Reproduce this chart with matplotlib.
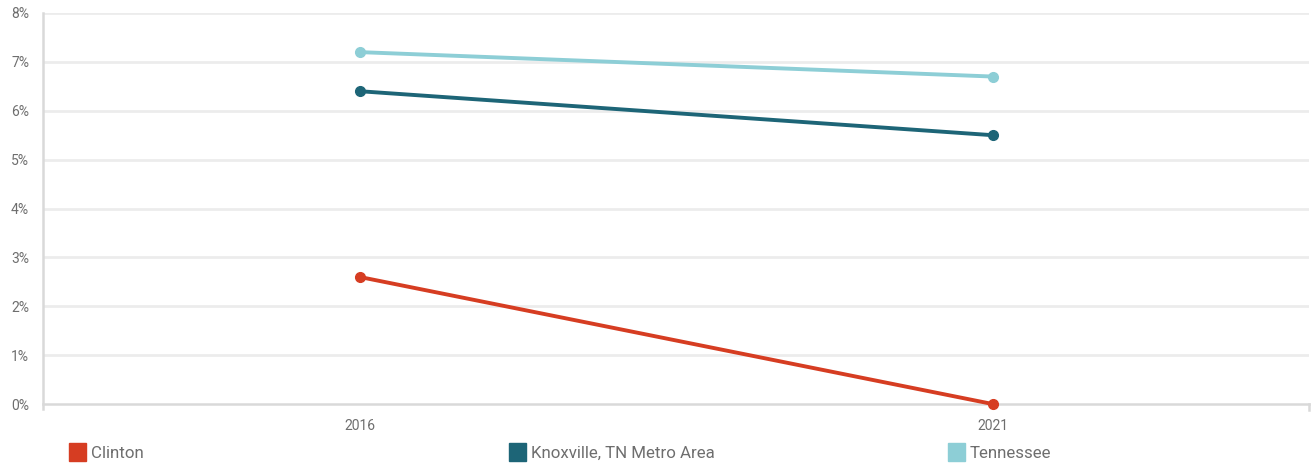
import matplotlib
matplotlib.use("Agg")
import matplotlib.pyplot as plt
from matplotlib.patches import Rectangle
import numpy as np

years = ["2016", "2021"]
series_names = ["Clinton", "Knoxville, TN Metro Area", "Tennessee"]
clinton = [2.6, 0.0]
knoxville = [6.4, 5.5]
tennessee = [7.2, 6.7]
colors = ["#d63d22", "#1d6577", "#8dced6"]
y_ticks = [0, 1, 2, 3, 4, 5, 6, 7, 8]

plt.rcParams['font.family'] = ['Roboto', 'DejaVu Sans']

fig = plt.figure(figsize=(13.12, 4.68), dpi=100)
ax = fig.add_axes([43 / 1312, 1 - 404 / 468, (1309 - 43) / 1312, (404 - 13) / 468])

x = np.arange(len(years))
for name, vals, c in zip(series_names, [clinton, knoxville, tennessee], colors):
    ax.plot(x, vals, color=c, lw=2.8, marker="o", ms=7, zorder=3,
            solid_capstyle="round", clip_on=False)

ax.set_xlim(-0.5, len(years) - 0.5)
ax.set_ylim(0, 8)
ax.set_xticks(x)
ax.set_xticklabels(years)
ax.set_yticks(y_ticks)
ax.set_yticklabels([f"{v}%" for v in y_ticks])

for v in y_ticks[1:]:
    ax.axhline(v, color="#ececec", lw=2, zorder=1)

for side in ["top", "right"]:
    ax.spines[side].set_visible(False)
for side in ["left", "bottom"]:
    ax.spines[side].set_color("#d9d9d9")
    ax.spines[side].set_linewidth(1.8)
    ax.spines[side].set_zorder(2)
ax.spines["left"].set_bounds(-0.1, 8)

ax.tick_params(axis="both", length=0, labelsize=10, labelcolor="#6e6e6e")
ax.tick_params(axis="x", pad=11)
ax.tick_params(axis="y", pad=10)

# right end tick of the x axis
ax.plot([1.5, 1.5], [0, -0.12], color="#d9d9d9", lw=1.8, clip_on=False)

# legend drawn along the bottom
legend_x = [69, 509, 948]
for name, c, lx in zip(series_names, colors, legend_x):
    fig.add_artist(Rectangle((lx / 1312, 1 - 461 / 468), 17 / 1312, 18 / 468,
                             transform=fig.transFigure, color=c))
    fig.text((lx + 22) / 1312, 1 - 453 / 468, name, fontsize=12.2,
             color="#6e6e6e", va="center", ha="left")

fig.savefig("out.png", dpi=100)
